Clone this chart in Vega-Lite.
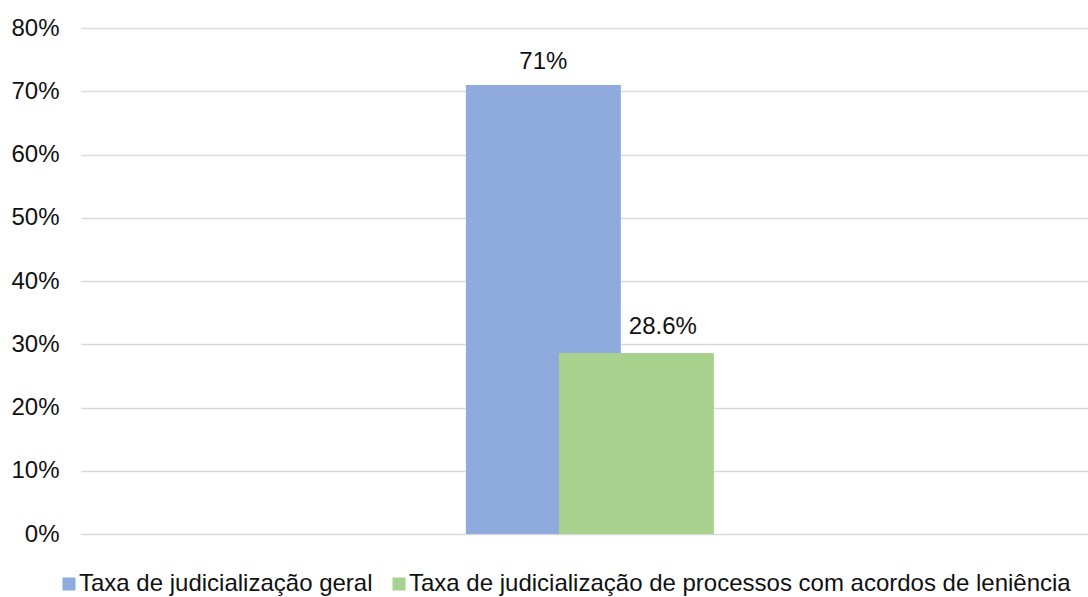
{
  "$schema": "https://vega.github.io/schema/vega-lite/v6.json",
  "width": 1007,
  "height": 506,
  "autosize": {"type": "none"},
  "padding": {"left": 81, "top": 28, "right": 0, "bottom": 63},
  "background": "#ffffff",
  "config": {
    "font": "Liberation Sans",
    "view": {"stroke": null}
  },
  "data": {
    "values": [
      {"grupo": "Total", "serie": "Taxa de judicialização geral", "taxa": 0.71},
      {"grupo": "Total", "serie": "Taxa de judicialização de processos com acordos de leniência", "taxa": 0.286}
    ]
  },
  "encoding": {
    "x": {
      "field": "grupo",
      "type": "nominal",
      "axis": null,
      "scale": {"paddingInner": 0, "paddingOuter": 1, "align": 0.508}
    },
    "xOffset": {
      "field": "serie",
      "type": "nominal",
      "sort": null,
      "scale": {"paddingInner": 0, "paddingOuter": 0.8046}
    },
    "y": {
      "field": "taxa",
      "type": "quantitative",
      "scale": {"domain": [0, 0.8], "nice": false},
      "axis": {
        "title": null,
        "format": "%",
        "values": [0, 0.1, 0.2, 0.3, 0.4, 0.5, 0.6, 0.7, 0.8],
        "domain": false,
        "ticks": false,
        "tickSize": 0,
        "labelPadding": 22,
        "labelFontSize": 24,
        "labelColor": "#111111",
        "gridColor": "#D9D9D9",
        "gridWidth": 1.5
      }
    }
  },
  "layer": [
    {
      "mark": {"type": "bar", "width": 155},
      "encoding": {
        "color": {
          "field": "serie",
          "type": "nominal",
          "sort": null,
          "scale": {"range": ["#8FAADC", "#A9D18E"]},
          "legend": {
            "title": null,
            "orient": "none",
            "direction": "horizontal",
            "legendX": -24,
            "legendY": 544,
            "padding": 0,
            "symbolType": "square",
            "symbolSize": 169,
            "symbolStrokeWidth": 0,
            "labelFontSize": 24,
            "labelColor": "#111111",
            "labelOffset": -2,
            "columnPadding": 14,
            "labelLimit": 1000
          }
        }
      }
    },
    {
      "transform": [{"filter": "datum.taxa > 0.5"}],
      "mark": {"type": "text", "baseline": "alphabetic", "dy": -16, "fontSize": 24, "color": "#111111"},
      "encoding": {"text": {"field": "taxa", "type": "quantitative", "format": ".1~%"}}
    },
    {
      "transform": [{"filter": "datum.taxa <= 0.5"}],
      "mark": {"type": "text", "baseline": "alphabetic", "dy": -19, "dx": 26.5, "fontSize": 24, "color": "#111111"},
      "encoding": {"text": {"field": "taxa", "type": "quantitative", "format": ".1~%"}}
    }
  ]
}
